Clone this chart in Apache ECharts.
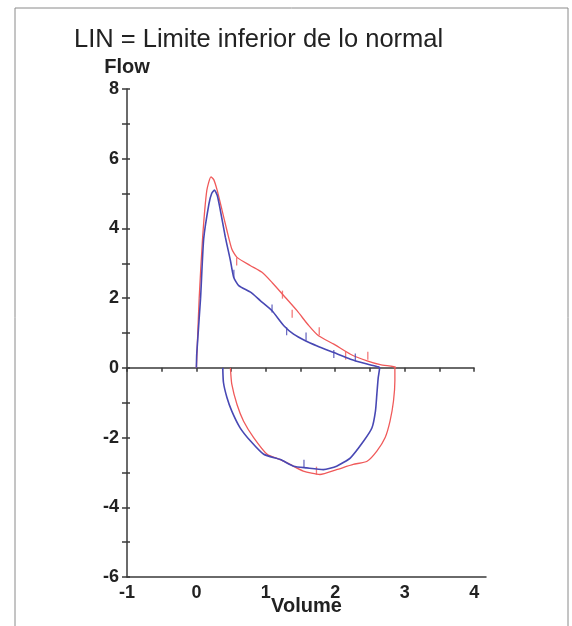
<!DOCTYPE html>
<html>
<head>
<meta charset="utf-8">
<script src="https://cdn.jsdelivr.net/npm/echarts@6/dist/echarts.min.js"></script>
<style>html,body{margin:0;padding:0;background:#fff;}#c{width:572px;height:626px;}</style>
</head>
<body>
<div id="c"></div>
<script>
// ---- data ----
const titleText = 'LIN = Limite inferior de lo normal';
const xName = 'Volume';
const yName = 'Flow';
const xRange = [-1, 4];
const yRange = [-6, 8];

// patient loop (blue): expiration then inspiration
const blueVol = [0, 0.005, 0.06, 0.105, 0.18, 0.22, 0.26, 0.3, 0.345, 0.417, 0.49, 0.537, 0.61, 0.78, 0.92, 1.09, 1.26, 1.4, 1.57, 1.74, 1.98, 2.22, 2.46, 2.62,
  2.64, 2.62, 2.6, 2.58, 2.53, 2.41, 2.22, 2.02, 1.83, 1.59, 1.4, 1.21, 0.97, 0.78, 0.63, 0.51, 0.44, 0.39, 0.38];
const blueFlow = [0, 0.4, 2.0, 3.7, 4.7, 5.0, 5.1, 4.95, 4.52, 3.75, 3.08, 2.6, 2.36, 2.17, 1.93, 1.64, 1.21, 0.97, 0.78, 0.63, 0.44, 0.25, 0.11, 0.03,
  0, -0.28, -0.76, -1.24, -1.72, -2.1, -2.58, -2.82, -2.92, -2.87, -2.82, -2.63, -2.48, -2.1, -1.72, -1.24, -0.85, -0.42, 0];

// lower limit of normal loop (red)
const redVol = [0, 0.01, 0.04, 0.09, 0.15, 0.21, 0.25, 0.3, 0.37, 0.44, 0.51, 0.585, 0.78, 0.945, 1.09, 1.26, 1.45, 1.62, 1.76, 1.98, 2.22, 2.46, 2.65, 2.87,
  2.86, 2.86, 2.84, 2.79, 2.72, 2.6, 2.46, 2.26, 2.02, 1.78, 1.54, 1.35, 1.21, 1.02, 0.825, 0.68, 0.585, 0.51, 0.49];
const redFlow = [0, 0.5, 2.0, 3.75, 5.09, 5.48, 5.4, 5.09, 4.52, 3.94, 3.41, 3.17, 2.93, 2.74, 2.45, 2.07, 1.64, 1.21, 0.92, 0.68, 0.39, 0.2, 0.09, 0.02,
  0, -0.37, -0.95, -1.53, -2.0, -2.39, -2.68, -2.77, -2.92, -3.06, -2.96, -2.77, -2.63, -2.48, -2.0, -1.53, -1.05, -0.47, 0];

// small time-marker ticks on the curves
const blueTickVol = [0.54, 1.09, 1.3, 1.58, 1.98, 2.29, 1.55];
const blueTickFlow = [2.7, 1.7, 1.05, 0.9, 0.4, 0.3, -2.75];
const redTickVol = [0.58, 1.24, 1.38, 1.77, 2.15, 2.47, 1.73];
const redTickFlow = [3.05, 2.1, 1.55, 1.05, 0.35, 0.35, -2.95];

// ---- chart ----
const zip = (a, b) => a.map((v, i) => [v, b[i]]);
const BLUE = '#4848b4', RED = '#f05a5a', AX = '#3a3a3a', FONT = 'Liberation Sans, Arial, sans-serif';
const chart = echarts.init(document.getElementById('c'), null, {renderer: 'canvas'});
const lbl = {fontFamily: FONT, fontWeight: 'bold', fontSize: 18, color: '#222'};
const nameLbl = {fontFamily: FONT, fontWeight: 'bold', fontSize: 20, color: '#222'};
chart.setOption({
  animation: false,
  backgroundColor: '#fff',
  title: {text: titleText, left: 69, top: 22, textStyle: {fontFamily: FONT, fontSize: 25.5, fontWeight: 'normal', color: '#222'}},
  graphic: [{type: 'rect', shape: {x: 15, y: 8, width: 553, height: 640}, style: {fill: 'none', stroke: '#8a8a8a', lineWidth: 1}}],
  grid: [
    {left: 127, right: 98, top: 89, bottom: 49, containLabel: false, outerBoundsMode: 'none'},
    {left: 127, right: 86, top: 89, bottom: 49, containLabel: false, outerBoundsMode: 'none'}
  ],
  xAxis: [
    {type: 'value', gridIndex: 0, min: xRange[0], max: xRange[1], interval: 0.5,
     axisLine: {onZero: true, lineStyle: {color: AX, width: 1.5}}, axisTick: {show: true, length: 4, lineStyle: {color: AX, width: 1.5}},
     axisLabel: {show: false}, splitLine: {show: false}},
    {type: 'value', gridIndex: 0, min: xRange[0], max: xRange[1], interval: 0.5,
     axisLine: {show: false, onZero: true}, axisTick: {show: true, inside: true, length: 4, lineStyle: {color: AX, width: 1.5}},
     axisLabel: {show: false}, splitLine: {show: false}},
    {type: 'value', gridIndex: 1, position: 'bottom', min: xRange[0], max: 4.17, interval: 1,
     name: xName, nameLocation: 'middle', nameGap: 19, nameMoveOverlap: false, nameTextStyle: nameLbl,
     axisLine: {onZero: false, lineStyle: {color: AX, width: 1.5}}, axisTick: {show: false},
     axisLabel: Object.assign({margin: 7, formatter: v => Number.isInteger(v) ? String(v) : ''}, lbl), splitLine: {show: false}}
  ],
  yAxis: [
    {type: 'value', gridIndex: 0, min: yRange[0], max: yRange[1], interval: 1,
     name: yName, nameLocation: 'end', nameGap: 12, nameTextStyle: Object.assign({align: 'center'}, nameLbl),
     axisLine: {onZero: false, lineStyle: {color: AX, width: 1.5}}, axisTick: {show: true, length: 5, lineStyle: {color: AX, width: 1.5}},
     axisLabel: Object.assign({margin: 8, formatter: v => (v % 2 === 0 ? String(v) : '')}, lbl), splitLine: {show: false}},
    {type: 'value', gridIndex: 0, min: yRange[0], max: yRange[1], interval: 1, position: 'left',
     axisLine: {show: false, onZero: false}, axisTick: {show: true, inside: true, length: 3, lineStyle: {color: AX, width: 1.5}},
     axisLabel: {show: false}, splitLine: {show: false}},
    {type: 'value', gridIndex: 1, min: yRange[0], max: yRange[1], show: false}
  ],
  series: [
    {type: 'line', xAxisIndex: 0, yAxisIndex: 0, data: zip(redVol, redFlow), symbol: 'none', smooth: 0.2,
     lineStyle: {color: RED, width: 1.3}, z: 3},
    {type: 'line', xAxisIndex: 0, yAxisIndex: 0, data: zip(blueVol, blueFlow), symbol: 'none', smooth: 0.2,
     lineStyle: {color: BLUE, width: 1.6}, z: 4},
    {type: 'scatter', xAxisIndex: 0, yAxisIndex: 0, data: zip(redTickVol, redTickFlow), symbol: 'rect', symbolSize: [1.3, 8],
     itemStyle: {color: RED}, z: 3},
    {type: 'scatter', xAxisIndex: 0, yAxisIndex: 0, data: zip(blueTickVol, blueTickFlow), symbol: 'rect', symbolSize: [1.3, 8],
     itemStyle: {color: BLUE}, z: 4}
  ]
});
</script>
</body>
</html>
